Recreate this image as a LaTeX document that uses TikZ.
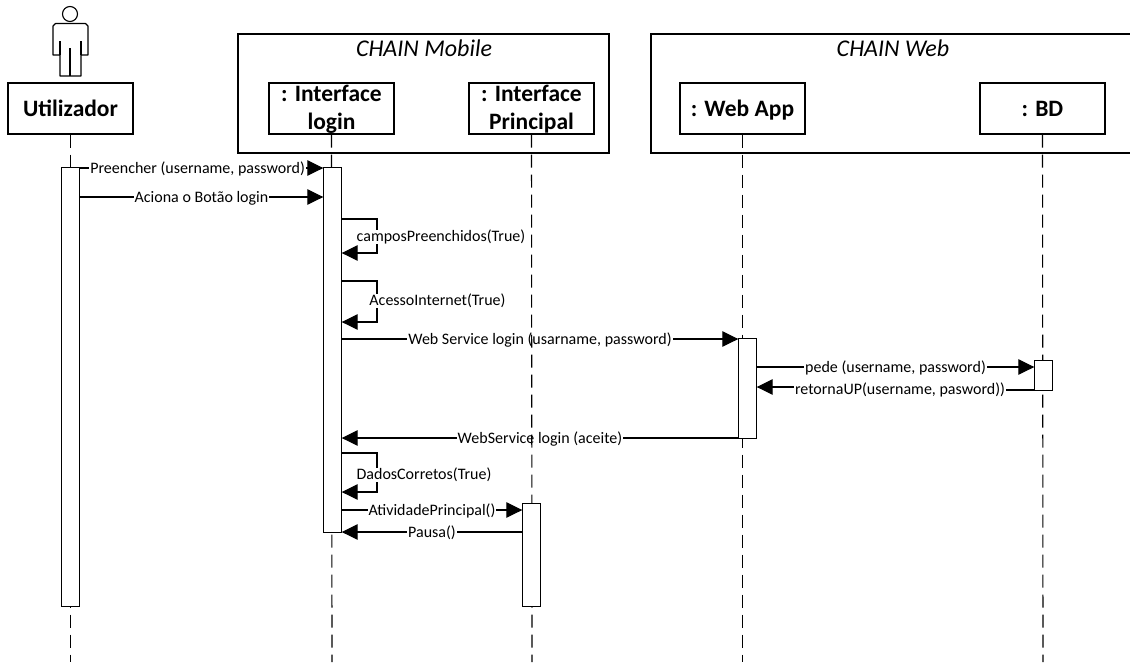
\documentclass[tikz,border=0pt]{standalone}
\usepackage{fontspec}
\setmainfont{Carlito}
\usetikzlibrary{arrows.meta}
\tikzset{
  ln/.style={line width=1.1pt,draw=black},
  objbox/.style={ln,fill=white,rectangle,inner sep=0pt,minimum width=125pt,minimum height=51pt,align=center,text height=18pt,text depth=2pt,font=\fontsize{23.5}{28}\selectfont\bfseries},
  objboxtwo/.style={objbox,text height=43pt,text depth=2pt},
  frameBox/.style={ln,rectangle,inner sep=0pt},
  frameTitle/.style={inner sep=0pt,anchor=base,font=\fontsize{24}{26}\selectfont\itshape},
  lifeline/.style={ln,dash pattern=on 13pt off 7pt},
  msg/.style={ln,-{Triangle[length=16pt,width=15.5pt]},shorten >=0.5pt},
  selfmsg/.style={ln,-{Triangle[length=16pt,width=15.5pt]},shorten >=0.5pt},
  lbl/.style={inner xsep=1pt,inner ysep=0pt,fill=white,yshift=-1pt,font=\fontsize{16}{18}\selectfont},
  anchorbox/.style={minimum width=17pt,inner sep=0pt}
}
\begin{document}
\begin{tikzpicture}[x=1pt,y=-1pt]
\useasboundingbox (0,0) rectangle (1130,662);
% frames
\node[frameBox,minimum width=371pt,minimum height=119pt] (fm) at (423.5,93.5) {};
\node[frameTitle] (fmt) at (424,56.7) {CHAIN Mobile};
\draw[ln] (1130,34) -- (651,34) -- (651,153) -- (1130,153);
\node[frameTitle] (fwt) at (893,56.7) {CHAIN Web};
% actor
\draw[ln,fill=white] (70,14) circle (7.5);
\draw[ln,line join=round] (60,76) -- (60,55) -- (53,55) -- (53,26) -- (55.5,23.5) -- (85.5,23.5) -- (88,26) -- (88,55) -- (81,55) -- (81,76) -- cycle;
\draw[ln] (60,41) -- (60,55) (81,41) -- (81,55) (70,48) -- (70,76);
% objects
\node[objbox] (u) at (70.5,108.5) {Utilizador};
\node[objboxtwo] (il) at (331.5,108.5) {: Interface\\login};
\node[objboxtwo] (ip) at (531.5,108.5) {: Interface\\Principal};
\node[objbox] (wa) at (742.5,108.5) {: Web App};
\node[objbox] (bd) at (1042.5,108.5) {: BD};
% lifeline ends
\coordinate (ue) at (70.5,662);
\coordinate (ile) at (332,662);
\coordinate (ipe) at (532,662);
\coordinate (wae) at (742.5,662);
\coordinate (bde) at (1043,662);
% activation geometry (used by the connectors)
\path (70.5,387) node[anchorbox,minimum height=438pt] (au) {};
\path (332.5,350) node[anchorbox,minimum height=364pt] (al) {};
\path (531.5,555) node[anchorbox,minimum height=102pt] (ap) {};
\path (747.5,388.5) node[anchorbox,minimum height=99pt] (aw) {};
\path (1043.5,375.5) node[anchorbox,minimum height=29pt] (ab) {};
% messages
\draw[msg] (au.east |- 0,168) -- node[lbl,pos=.484] (m1) {Preencher (username, password)} (al.west |- 0,168);
\draw[msg] (au.east |- 0,197) -- node[lbl] (m2) {Aciona o Botão login} (al.west |- 0,197);
\draw[selfmsg] (al.east |- 0,219) -- (377,219) -- (377,253) -- (al.east |- 0,253);
\node[lbl,inner xsep=0pt] (m3) at (441,236) {camposPreenchidos(True)};
\draw[selfmsg] (al.east |- 0,281) -- (377,281) -- (377,322) -- (al.east |- 0,322);
\node[lbl,inner xsep=0pt] (m4) at (437.5,300) {AcessoInternet(True)};
\draw[msg] (al.east |- 0,339) -- node[lbl] (m5) {Web Service login (usarname, password)} (aw.west |- 0,339);
\draw[msg] (aw.east |- 0,367) -- node[lbl] (m6) {pede (username, password)} (ab.west |- 0,367);
\draw[msg] (ab.west |- 0,390) -- (900,390) -- (900,387) -- (aw.east |- 0,387);
\node[lbl] (m7) at (900,389) {retornaUP(username, pasword))};
\draw[msg] (aw.west |- 0,438) -- node[lbl] (m8) {WebService login (aceite)} (al.east |- 0,438);
\draw[selfmsg] (al.east |- 0,453) -- (377,453) -- (377,492) -- (al.east |- 0,492);
\node[lbl,inner xsep=0pt] (m9) at (424,474) {DadosCorretos(True)};
\draw[msg] (al.east |- 0,510) -- node[lbl] (m10) {AtividadePrincipal()} (ap.west |- 0,510);
\draw[msg] (ap.west |- 0,532) -- node[lbl] (m11) {Pausa()} (al.east |- 0,532);
% lifelines
\draw[lifeline] (u.south) -- (ue);
\draw[lifeline] (il.south) -- (ile);
\draw[lifeline] (ip.south) -- (ipe);
\draw[lifeline] (wa.south) -- (wae);
\draw[lifeline] (bd.south) -- (bde);
% activations
\draw[ln,fill=white] (au.north west) rectangle (au.south east);
\draw[ln,fill=white] (al.north west) rectangle (al.south east);
\draw[ln,fill=white] (ap.north west) rectangle (ap.south east);
\draw[ln,fill=white] (aw.north west) rectangle (aw.south east);
\draw[ln,fill=white] (ab.north west) rectangle (ab.south east);
\end{tikzpicture}
\end{document}
